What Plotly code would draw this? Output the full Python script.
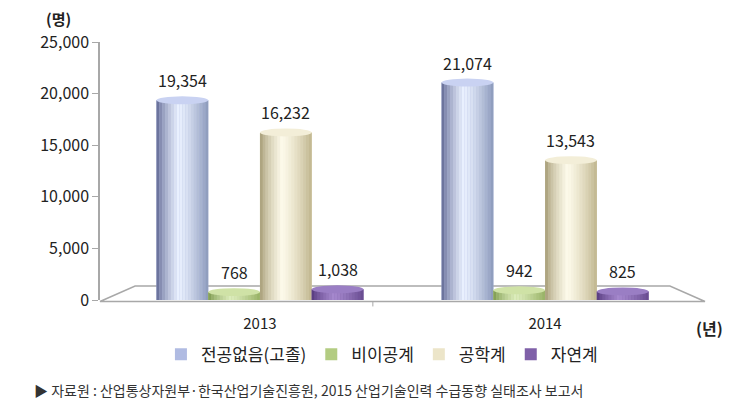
import plotly.graph_objects as go

# ---- data ----
years = ["2013", "2014"]
series_names = ["전공없음(고졸)", "비이공계", "공학계", "자연계"]
no_major = [19354, 21074]
non_engineering = [768, 942]
engineering = [16232, 13543]
natural = [1038, 825]
series_values = [no_major, non_engineering, engineering, natural]

y_ticks = [0, 5000, 10000, 15000, 20000, 25000]
source_note = "▶ 자료원 : 산업통상자원부·한국산업기술진흥원, 2015 산업기술인력 수급동향 실태조사 보고서"

# ---- style ----
FONT = "Noto Sans CJK KR"
dark = [(86, 94, 140), (118, 148, 70), (160, 150, 110), (78, 50, 118)]
light = [(234, 241, 255), (220, 236, 188), (253, 250, 234), (165, 136, 205)]
right = [(138, 152, 186), (150, 176, 100), (192, 182, 142), (102, 74, 142)]
cap_colors = ["#c9d2f2", "#cfe2a6", "#f3eed8", "#9a7ec4"]
legend_colors = ["#b0bbe2", "#b3cc82", "#ece5c9", "#7f60a8"]

GROUP_W = 0.726
BAR_W = GROUP_W / 4
N_STRIPS = 18
CAP_HALF = 380  # half-height of the cylinder cap in axis units


def mix(a, b, t):
    return tuple(round(a[i] + (b[i] - a[i]) * t) for i in range(3))


def strip_color(k, t):
    peak = 0.42
    if t < peak:
        c = mix(dark[k], light[k], (t / peak) ** 0.7)
    else:
        c = mix(light[k], right[k], ((t - peak) / (1 - peak)) ** 1.3)
    return "rgb(%d,%d,%d)" % c


fig = go.Figure()
shapes = []
annotations = []

for k, (name, vals) in enumerate(zip(series_names, series_values)):
    off = -GROUP_W / 2 + k * BAR_W
    # legend trace (fully covered by the gradient strips)
    fig.add_trace(go.Bar(
        x=years, y=vals, name=name, offset=off, width=BAR_W,
        marker=dict(color=legend_colors[k], line=dict(width=0)),
        legendgroup=name, hoverinfo="skip",
    ))
    sw = BAR_W / N_STRIPS
    for s in range(N_STRIPS):
        t = (s + 0.5) / N_STRIPS
        fig.add_trace(go.Bar(
            x=years, y=vals, offset=off + s * sw, width=sw * 1.04,
            marker=dict(color=strip_color(k, t), line=dict(width=0)),
            showlegend=False, legendgroup=name, hoverinfo="skip",
        ))
    for i, v in enumerate(vals):
        shapes.append(dict(
            type="circle", xref="x", yref="y",
            x0=i + off, x1=i + off + BAR_W,
            y0=v - CAP_HALF, y1=v + CAP_HALF,
            fillcolor=cap_colors[k], line=dict(width=0), layer="above",
        ))
        annotations.append(dict(
            text=f"{v:,}", xref="x", yref="y",
            x=i + off + BAR_W / 2, y=v, xanchor="center", yanchor="bottom",
            yshift=6, showarrow=False,
            font=dict(family=FONT, size=16, color="#222222"),
        ))

# floor of the 3D chart
shapes.insert(0, dict(
    type="path", xref="paper", yref="paper",
    path="M 0,-0.006 L 0.058,0.054 L 0.942,0.054 L 1,-0.006 Z",
    line=dict(color="#a8a8a8", width=1.5), fillcolor="rgba(0,0,0,0)",
    layer="below",
))
shapes.insert(1, dict(
    type="line", xref="paper", yref="paper",
    x0=0.451, x1=0.451, y0=-0.006, y1=-0.025,
    line=dict(color="#a8a8a8", width=1), layer="below",
))

annotations += [
    dict(text="<b>(명)</b>", xref="paper", yref="paper",
         x=-0.069, y=1.091, xanchor="center", yanchor="middle",
         showarrow=False, borderpad=0,
         font=dict(family=FONT, size=15, color="#222222")),
    dict(text="<b>(년)</b>", xref="paper", yref="paper",
         x=1.008, y=-0.1085, xanchor="center", yanchor="middle",
         showarrow=False, font=dict(family=FONT, size=16, color="#222222")),
    dict(text=source_note, xref="paper", yref="paper",
         x=-0.113, y=-0.348, xanchor="left", yanchor="middle",
         showarrow=False, font=dict(family=FONT, size=14, color="#333333")),
]

# the page body adds an 8px margin; size the figure to fit the window
fig.update_layout(
    width=739, height=409,
    margin=dict(l=92, r=42, t=34, b=117),
    paper_bgcolor="white", plot_bgcolor="white",
    barmode="overlay",
    font=dict(family=FONT, size=15, color="#222222"),
    shapes=shapes,
    annotations=annotations,
    showlegend=True,
    legend=dict(
        orientation="h", x=0.466, xanchor="center", y=-0.2116, yanchor="middle",
        font=dict(family=FONT, size=17, color="#222222"),
        itemwidth=30, tracegroupgap=0,
    ),
    xaxis=dict(
        type="category", range=[-0.561, 1.561],
        showline=False, showgrid=False, zeroline=False, ticks="",
        tickfont=dict(family=FONT, size=15, color="#222222"),
        ticklabelstandoff=13,
    ),
    yaxis=dict(
        range=[0, 25000], tickvals=y_ticks, tickformat=",",
        showline=True, linecolor="#a8a8a8", linewidth=1.5,
        ticks="outside", ticklen=6, tickcolor="#a8a8a8",
        showgrid=False, zeroline=False,
        tickfont=dict(family=FONT, size=16, color="#222222"),
    ),
)

fig.write_html("out.html")
